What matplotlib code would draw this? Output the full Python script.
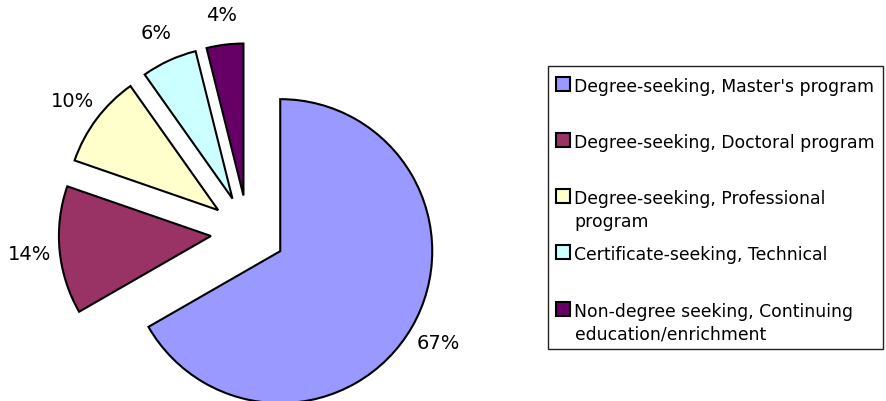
import matplotlib
matplotlib.use("Agg")
import matplotlib.pyplot as plt
from matplotlib.patches import Rectangle

# ---- data ----
categories = [
    "Degree-seeking, Master's program",
    "Degree-seeking, Doctoral program",
    "Degree-seeking, Professional\nprogram",
    "Certificate-seeking, Technical",
    "Non-degree seeking, Continuing\neducation/enrichment",
]
shares = [66.7, 13.6, 9.9, 5.9, 3.9]
colors = ["#9999FF", "#993366", "#FFFFCC", "#CCFFFF", "#660066"]

# ---- layout (pixels) ----
W, H = 887, 402
cx, cy, r = 248, 233.5, 152

fig = plt.figure(figsize=(W / 100, H / 100), dpi=100)
ax = fig.add_axes([0, 0, 1, 1])
wedges, texts, autotexts = ax.pie(
    shares, colors=colors, explode=[0.245] * len(shares), startangle=90,
    counterclock=False, autopct='%.0f%%', pctdistance=1.2,
    wedgeprops=dict(edgecolor='black', linewidth=1.5),
    textprops=dict(fontsize=14, color='black'))
ax.set_aspect('auto')
ax.set_xlim(-cx / r, (W - cx) / r)
ax.set_ylim(-(H - cy) / r, cy / r)
ax.axis('off')

# ---- legend drawn manually ----
def fx(px):
    return px / W

def fy(py):
    return 1 - py / H

box_l, box_t, box_r, box_b = 548, 67, 883, 350
fig.patches.append(Rectangle((fx(box_l), fy(box_b)), (box_r - box_l) / W,
                             (box_b - box_t) / H, transform=fig.transFigure,
                             fill=False, edgecolor='#222222', linewidth=1.0))
base0, step, line_step = 91.7, 56.25, 22.6
sq = 14.0
for i, (lab, col) in enumerate(zip(categories, colors)):
    b = base0 + i * step
    sc = b - 7
    fig.patches.append(Rectangle((fx(563 - sq / 2), fy(sc + sq / 2)), sq / W, sq / H,
                                 transform=fig.transFigure, facecolor=col,
                                 edgecolor='black', linewidth=1.5))
    for j, line in enumerate(lab.split("\n")):
        fig.text(fx(574.5), fy(b + j * line_step), line, fontsize=12.4,
                 ha='left', va='baseline', color='black')

fig.savefig("out.png", dpi=100, facecolor='white')
